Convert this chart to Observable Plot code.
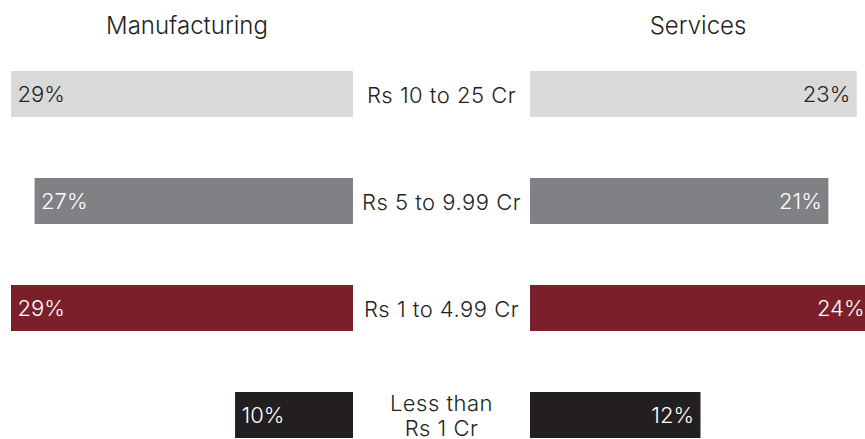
<!DOCTYPE html>
<html>
<head>
<meta charset="utf-8">
<script src="https://cdn.jsdelivr.net/npm/d3@7"></script>
<script src="https://cdn.jsdelivr.net/npm/@observablehq/plot@0.6"></script>
<style>
  html, body { margin: 0; padding: 0; background: #fff; overflow: hidden; }
  body { font-family: Inter, Roboto, sans-serif; color: #231f20; font-weight: 300; }
  #wrap { position: relative; width: 871px; }
  #titles { position: relative; height: 40px; }
  #titles span { position: absolute; top: 14px; font-size: 24px; line-height: 1; transform: translateX(-50%); white-space: nowrap; }
  #charts { display: flex; align-items: flex-start; }
  #charts svg { display: block; }
  #charts svg text { font-weight: 300; }
  #charts svg .cat-label text { letter-spacing: 0.5px; }
</style>
</head>
<body>
<div id="wrap">
  <div id="titles"><span id="t1"></span><span id="t2"></span></div>
  <div id="charts"></div>
</div>
<script>
const categories = ["Rs 10 to 25 Cr", "Rs 5 to 9.99 Cr", "Rs 1 to 4.99 Cr", "Less than\nRs 1 Cr"];
const seriesNames = ["Manufacturing", "Services"];
const manufacturing = [29, 27, 29, 10];
const services = [23, 21, 24, 12];
const barColors = ["#d9d9d9", "#808184", "#7b1f2b", "#231f20"];

const t1 = document.getElementById("t1");
t1.textContent = seriesNames[0];
t1.style.left = "187px";
const t2 = document.getElementById("t2");
t2.textContent = seriesNames[1];
t2.style.left = "698px";

const manuData = categories.map((c, i) => ({cat: c, value: manufacturing[i]}));
const servData = categories.map((c, i) => ({cat: c, value: services[i]}));
const darkText = d => d.cat === categories[0];
const lightText = d => d.cat !== categories[0];

const yScale = {domain: categories, paddingInner: 0.57, paddingOuter: 0.285, axis: null};
const colorScale = {domain: categories, range: barColors};
const common = {
  height: 430,
  marginTop: 0,
  marginBottom: 0,
  style: {fontFamily: "Inter, Roboto, sans-serif", color: "#231f20", background: "transparent", overflow: "visible"}
};

const left = Plot.plot({
  ...common,
  width: 530,
  marginLeft: 11,
  marginRight: 177,
  x: {domain: [0, 29], reverse: true, axis: null},
  y: yScale,
  color: colorScale,
  marks: [
    Plot.barX(manuData, {x: "value", y: "cat", fill: "cat"}),
    Plot.text(manuData.filter(darkText), {x: "value", y: "cat", text: d => d.value + "%", textAnchor: "start", dx: 6, fill: "#231f20", fontSize: 22}),
    Plot.text(manuData.filter(lightText), {x: "value", y: "cat", text: d => d.value + "%", textAnchor: "start", dx: 6, fill: "white", fontSize: 22}),
    Plot.text(manuData, {x: 0, y: "cat", text: "cat", textAnchor: "middle", dx: 88, fill: "#231f20", fontSize: 22, lineHeight: 1.15, className: "cat-label"})
  ]
});

const right = Plot.plot({
  ...common,
  width: 341,
  marginLeft: 0,
  marginRight: 0,
  x: {domain: [0, 24], axis: null},
  y: yScale,
  color: colorScale,
  marks: [
    Plot.barX(servData, {x: "value", y: "cat", fill: "cat"}),
    Plot.text(servData.filter(darkText), {x: "value", y: "cat", text: d => d.value + "%", textAnchor: "end", dx: -7, fill: "#231f20", fontSize: 22}),
    Plot.text(servData.filter(lightText), {x: "value", y: "cat", text: d => d.value + "%", textAnchor: "end", dx: -7, fill: "white", fontSize: 22})
  ]
});

const charts = document.getElementById("charts");
charts.appendChild(left);
charts.appendChild(right);
</script>
</body>
</html>
